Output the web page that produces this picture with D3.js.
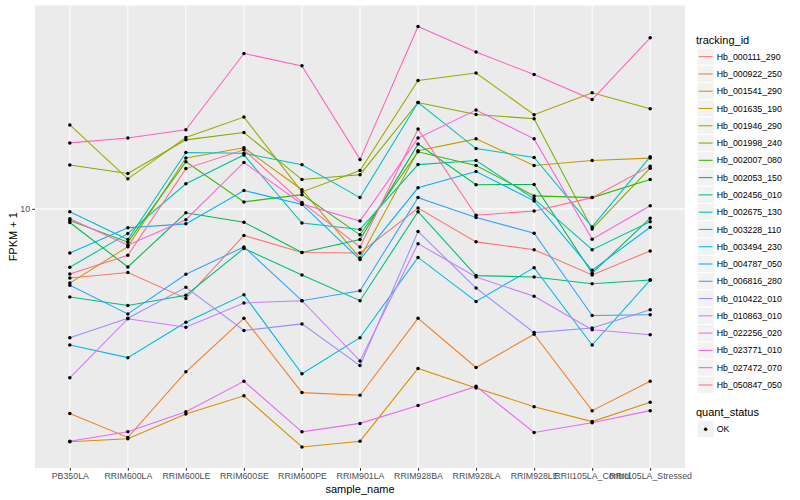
<!DOCTYPE html>
<html>
<head>
<meta charset="utf-8">
<script src="https://cdn.jsdelivr.net/npm/d3@7"></script>
<style>
  body { margin: 0; background: #fff; }
  svg text { font-family: "Liberation Sans", Arial, sans-serif; }
</style>
</head>
<body>
<svg id="chart" width="800" height="500"></svg>
<script>
var samples = ['PB350LA', 'RRIM600LA', 'RRIM600LE', 'RRIM600SE', 'RRIM600PE', 'RRIM901LA',
    'RRIM928BA', 'RRIM928LA', 'RRIM928LE', 'RRII105LA_Control', 'RRII105LA_Stressed'];

var trackingIds = ['Hb_000111_290', 'Hb_000922_250', 'Hb_001541_290', 'Hb_001635_190', 'Hb_001946_290',
    'Hb_001998_240', 'Hb_002007_080', 'Hb_002053_150', 'Hb_002456_010', 'Hb_002675_130',
    'Hb_003228_110', 'Hb_003494_230', 'Hb_004787_050', 'Hb_006816_280', 'Hb_010422_010',
    'Hb_010863_010', 'Hb_022256_020', 'Hb_023771_010', 'Hb_027472_070', 'Hb_050847_050'];

// FPKM + 1, one array per gene, in sample order
var hb000111 = [7.67, 7.83, 7.09, 9.03, 8.46, 8.44, 10.03, 8.81, 8.55, 7.76, 8.51];
var hb000922 = [4.56, 4.16, 5.35, 6.57, 4.94, 4.89, 6.57, 5.44, 6.18, 4.61, 5.16];
var hb001541 = [4.09, 4.14, 4.55, 4.88, 4.01, 4.10, 5.42, 5.03, 4.68, 4.42, 4.76];
var hb001635 = [7.52, 8.65, 12.16, 12.64, 10.76, 8.28, 12.50, 13.08, 11.81, 12.04, 12.15];
var hb001946 = [13.80, 11.22, 13.15, 14.22, 10.67, 11.58, 16.36, 16.84, 14.35, 15.61, 14.68];
var hb001998 = [11.83, 11.45, 13.03, 13.40, 11.19, 11.40, 15.04, 14.36, 14.13, 9.26, 11.69];
var hb002007 = [9.56, 8.80, 11.98, 10.27, 10.56, 9.05, 12.45, 11.81, 10.51, 10.44, 11.19];
var hb002053 = [9.49, 8.00, 9.85, 9.50, 8.46, 8.89, 12.82, 10.97, 10.98, 7.81, 9.65];
var hb002456 = [7.13, 6.90, 7.18, 8.59, 7.76, 7.03, 9.89, 7.74, 7.70, 7.50, 7.61];
var hb002675 = [7.99, 9.10, 11.01, 12.30, 9.47, 9.24, 11.85, 12.04, 10.39, 8.55, 9.52];
var hb003228 = [9.89, 8.89, 12.41, 12.38, 11.84, 10.44, 15.04, 12.60, 12.18, 9.33, 12.21];
var hb003494 = [5.93, 5.65, 6.47, 7.19, 5.31, 6.10, 8.30, 7.01, 7.98, 5.93, 7.61];
var hb004787 = [8.44, 9.30, 9.44, 10.73, 10.17, 8.23, 10.84, 11.54, 10.31, 7.90, 9.32];
var hb006816 = [7.46, 6.68, 7.78, 8.64, 7.03, 7.30, 10.44, 9.67, 9.11, 6.64, 6.66];
var hb010422 = [6.10, 6.57, 7.40, 6.27, 6.43, 5.48, 9.17, 7.38, 6.22, 6.33, 6.79];
var hb010863 = [5.23, 6.56, 6.35, 6.97, 7.03, 5.58, 8.75, 7.70, 7.15, 6.29, 6.17];
var hb022256 = [4.10, 4.25, 4.59, 5.16, 4.25, 4.39, 4.70, 5.06, 4.24, 4.40, 4.61];
var hb023771 = [9.63, 8.70, 9.59, 11.95, 10.19, 9.54, 13.12, 14.61, 13.08, 8.90, 10.12];
var hb027472 = [12.88, 13.12, 13.54, 18.15, 17.31, 12.09, 20.13, 18.25, 16.74, 15.21, 19.28];
var hb050847 = [7.79, 8.37, 11.67, 12.54, 10.25, 8.64, 13.58, 9.76, 9.92, 10.44, 11.78];

var yTicks = [10];
var quantStatus = ['OK'];

var palette = ['#F8766D', '#EA8331', '#D89000', '#C09B00', '#A3A500', '#7CAE00', '#39B600',
    '#00BB4E', '#00BF7D', '#00C1A3', '#00BFC4', '#00BAE0', '#00B0F6', '#35A2FF', '#9590FF',
    '#C77CFF', '#E76BF3', '#FA62DB', '#FF62BC', '#FF6C91'];

var values = [hb000111, hb000922, hb001541, hb001635, hb001946, hb001998, hb002007, hb002053,
    hb002456, hb002675, hb003228, hb003494, hb004787, hb006816, hb010422, hb010863,
    hb022256, hb023771, hb027472, hb050847];

var series = trackingIds.map(function(id, i) {
    return {
        id: id,
        color: palette[i],
        points: samples.map(function(s, j) { return {sample: s, value: values[i][j]}; })
    };
});

var panel = {left: 35, right: 685, top: 5.5, bottom: 468},
    lineW = 1.07;

var svg = d3.select('#chart');

var x = d3.scalePoint()
    .domain(samples)
    .range([panel.left, panel.right])
    .padding(0.6);

var all = [].concat.apply([], values),
    logMin = Math.log10(d3.min(all)),
    logMax = Math.log10(d3.max(all)),
    pad = (logMax - logMin) * 0.05;

var y = d3.scaleLog()
    .domain([Math.pow(10, logMin - pad), Math.pow(10, logMax + pad)])
    .range([panel.bottom, panel.top]);

// panel background and grid
svg.append('rect')
    .attr('x', panel.left).attr('y', panel.top)
    .attr('width', panel.right - panel.left).attr('height', panel.bottom - panel.top)
    .attr('fill', '#EBEBEB');

svg.append('g').selectAll('line').data(yTicks).enter()
    .append('line')
        .attr('x1', panel.left).attr('x2', panel.right)
        .attr('y1', function(d) { return y(d); }).attr('y2', function(d) { return y(d); })
        .attr('stroke', '#fff').attr('stroke-width', lineW);

svg.append('g').selectAll('line').data(samples).enter()
    .append('line')
        .attr('x1', function(d) { return x(d); }).attr('x2', function(d) { return x(d); })
        .attr('y1', panel.top).attr('y2', panel.bottom)
        .attr('stroke', '#fff').attr('stroke-width', lineW);

// lines
var line = d3.line()
    .x(function(d) { return x(d.sample); })
    .y(function(d) { return y(d.value); });

svg.append('g').selectAll('path').data(series).enter()
    .append('path')
        .attr('d', function(d) { return line(d.points); })
        .attr('fill', 'none')
        .attr('stroke', function(d) { return d.color; })
        .attr('stroke-width', lineW);

// points
var pts = [];
series.forEach(function(s) { pts = pts.concat(s.points); });

svg.append('g').selectAll('circle').data(pts).enter()
    .append('circle')
        .attr('cx', function(d) { return x(d.sample); })
        .attr('cy', function(d) { return y(d.value); })
        .attr('r', 1.75)
        .attr('fill', '#000');

// axes
var xAxis = svg.append('g')
    .attr('transform', 'translate(0,' + panel.bottom + ')')
    .call(d3.axisBottom(x).tickSize(2.75).tickPadding(2.2));

var yAxis = svg.append('g')
    .attr('transform', 'translate(' + panel.left + ',0)')
    .call(d3.axisLeft(y).tickValues(yTicks).tickFormat(d3.format('d')).tickSize(2.75).tickPadding(2.2));

[xAxis, yAxis].forEach(function(a) {
    a.select('.domain').remove();
    a.selectAll('.tick line').attr('stroke', '#333333').attr('stroke-width', lineW);
    a.selectAll('.tick text')
        .attr('fill', '#4D4D4D')
        .style('font-size', '8.8px')
        .style('font-family', '"Liberation Sans", Arial, sans-serif');
});

svg.append('text')
    .attr('x', (panel.left + panel.right) / 2)
    .attr('y', 493)
    .attr('text-anchor', 'middle')
    .style('font-size', '11px')
    .text('sample_name');

svg.append('text')
    .attr('transform', 'translate(17,' + ((panel.top + panel.bottom) / 2) + ') rotate(-90)')
    .attr('text-anchor', 'middle')
    .style('font-size', '11px')
    .text('FPKM + 1');

// legends
var keySize = 17.28,
    legendX = 697,
    legend = svg.append('g');

legend.append('text')
    .attr('x', 696).attr('y', 44)
    .style('font-size', '11px')
    .text('tracking_id');

var keys = legend.selectAll('g.key').data(series).enter()
    .append('g')
        .attr('class', 'key')
        .attr('transform', function(d, i) { return 'translate(' + legendX + ',' + (48 + i * keySize) + ')'; });

keys.append('rect')
    .attr('width', keySize).attr('height', keySize)
    .attr('fill', '#F2F2F2').attr('stroke', '#fff');

keys.append('line')
    .attr('x1', 1.7).attr('x2', keySize - 1.7)
    .attr('y1', keySize / 2).attr('y2', keySize / 2)
    .attr('stroke', function(d) { return d.color; })
    .attr('stroke-width', lineW);

keys.append('text')
    .attr('x', keySize + 2.5).attr('y', keySize / 2)
    .attr('dy', '0.35em')
    .style('font-size', '8.8px')
    .text(function(d) { return d.id; });

legend.append('text')
    .attr('x', 696).attr('y', 416)
    .style('font-size', '11px')
    .text('quant_status');

var statusKeys = legend.selectAll('g.skey').data(quantStatus).enter()
    .append('g')
        .attr('class', 'skey')
        .attr('transform', function(d, i) { return 'translate(' + legendX + ',' + (420.5 + i * keySize) + ')'; });

statusKeys.append('rect')
    .attr('width', keySize).attr('height', keySize)
    .attr('fill', '#F2F2F2').attr('stroke', '#fff');

statusKeys.append('circle')
    .attr('cx', keySize / 2).attr('cy', keySize / 2)
    .attr('r', 1.75).attr('fill', '#000');

statusKeys.append('text')
    .attr('x', keySize + 2.5).attr('y', keySize / 2)
    .attr('dy', '0.35em')
    .style('font-size', '8.8px')
    .text(function(d) { return d; });
</script>
</body>
</html>
